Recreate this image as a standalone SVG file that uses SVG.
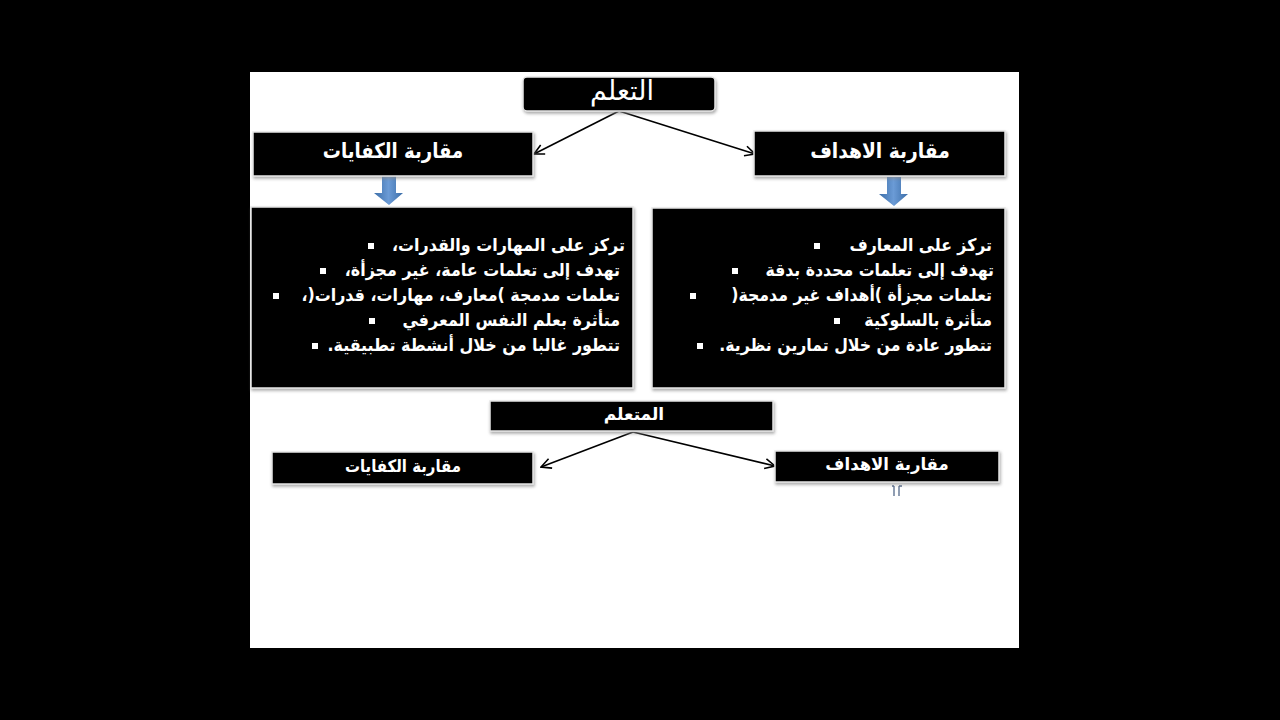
<svg xmlns="http://www.w3.org/2000/svg" width="1280" height="720" viewBox="0 0 1280 720">
<style>
.box{fill:#000;stroke:#e6e6e6;stroke-width:1.5;filter:url(#sh)}
.t{font-family:"DejaVu Sans",sans-serif;fill:#fff;direction:rtl}
.h{font-size:21px;font-weight:bold;text-anchor:middle}
.b{font-size:17.5px;font-weight:bold;text-anchor:start}
.con{stroke:#000;stroke-width:1.6;fill:none;marker-end:url(#ah)}
.bul{fill:#fff}
</style>
<defs>
<filter id="sh" x="-10%" y="-20%" width="120%" height="150%">
<feDropShadow dx="1" dy="2" stdDeviation="1.5" flood-color="#888" flood-opacity="0.7"/>
</filter>
<marker id="ah" viewBox="0 0 12 12" refX="11" refY="6" markerWidth="12" markerHeight="12" markerUnits="userSpaceOnUse" orient="auto">
<path d="M1,1 L11,6 L1,11" fill="none" stroke="#000" stroke-width="1.6"/>
</marker>
<linearGradient id="bl" x1="0" x2="1" y1="0" y2="0">
<stop offset="0" stop-color="#3c6ea8"/>
<stop offset="0.5" stop-color="#6b9bd6"/>
<stop offset="1" stop-color="#3c6ea8"/>
</linearGradient>
</defs>
<rect x="0" y="0" width="1280" height="720" fill="#000"/>
<rect x="250" y="72" width="769" height="576" fill="#fff"/>

<g id="connectors">
<line class="con" x1="619" y1="111" x2="534" y2="154"/>
<line class="con" x1="619" y1="111" x2="755" y2="154"/>
<line class="con" x1="633" y1="432" x2="541" y2="467"/>
<line class="con" x1="633" y1="432" x2="775" y2="466"/>
<path d="M382,176 H396 V193 H403 L389,205 L374,193 H382 Z" fill="url(#bl)"/>
<path d="M887,177 H901 V194 H908 L894,206 L879,194 H887 Z" fill="url(#bl)"/>
<path d="M894,486 V496 M899,486 V496 M892,486 H894 M899,486 H902" stroke="#556a8a" stroke-width="1.3" fill="none"/>
</g>

<g id="n-taallum">
<rect class="box" x="523" y="77" width="192" height="34" rx="4"/>
<text class="t h" x="622" y="100" style="font-weight:normal;font-size:27px">التعلم</text>
</g>
<g id="n-kifayat">
<rect class="box" x="253" y="132" width="280" height="44"/>
<text class="t h" transform="translate(393,158) scale(0.86,1)">مقاربة الكفايات</text>
</g>
<g id="n-ahdaf">
<rect class="box" x="754" y="131" width="251" height="45"/>
<text class="t h" transform="translate(880,158) scale(0.89,1)">مقاربة الاهداف</text>
</g>

<g id="n-kifayat-list">
<rect class="box" x="251" y="207" width="382" height="181"/>
<text class="t b" transform="translate(625,251) scale(0.91,1)">تركز على المهارات والقدرات،</text>
<text class="t b" transform="translate(620,276) scale(0.91,1)">تهدف إلى تعلمات عامة، غير مجزأة،</text>
<text class="t b" transform="translate(620,301) scale(0.91,1)">تعلمات مدمجة )معارف، مهارات، قدرات(،</text>
<text class="t b" transform="translate(620,326) scale(0.91,1)">متأثرة بعلم النفس المعرفي</text>
<text class="t b" transform="translate(620,351) scale(0.91,1)">تتطور غالبا من خلال أنشطة تطبيقية.</text>
<rect class="bul" x="368" y="243" width="6" height="6"/>
<rect class="bul" x="320" y="268" width="6" height="6"/>
<rect class="bul" x="273" y="293" width="6" height="6"/>
<rect class="bul" x="369" y="318" width="6" height="6"/>
<rect class="bul" x="312" y="343" width="6" height="6"/>
</g>

<g id="n-ahdaf-list">
<rect class="box" x="652" y="208" width="353" height="180"/>
<text class="t b" transform="translate(992,251) scale(0.9,1)">تركز على المعارف</text>
<text class="t b" transform="translate(994,276) scale(0.9,1)">تهدف إلى تعلمات محددة بدقة</text>
<text class="t b" transform="translate(992,301) scale(0.9,1)">تعلمات مجزأة )أهداف غير مدمجة(</text>
<text class="t b" transform="translate(992,326) scale(0.9,1)">متأثرة بالسلوكية</text>
<text class="t b" transform="translate(992,351) scale(0.9,1)">تتطور عادة من خلال تمارين نظرية.</text>
<rect class="bul" x="814" y="243" width="6" height="6"/>
<rect class="bul" x="732" y="268" width="6" height="6"/>
<rect class="bul" x="690" y="293" width="6" height="6"/>
<rect class="bul" x="834" y="318" width="6" height="6"/>
<rect class="bul" x="697" y="343" width="6" height="6"/>
</g>

<g id="n-mutaallim">
<rect class="box" x="490" y="401" width="283" height="30"/>
<text class="t h" x="634" y="420" style="font-size:17px">المتعلم</text>
</g>
<g id="n-kifayat2">
<rect class="box" x="272" y="452" width="261" height="32"/>
<text class="t h" transform="translate(403,472) scale(0.88,1)" style="font-size:17px">مقاربة الكفايات</text>
</g>
<g id="n-ahdaf2">
<rect class="box" x="775" y="451" width="224" height="31"/>
<text class="t h" transform="translate(887,470) scale(0.97,1)" style="font-size:17px">مقاربة  الاهداف</text>
</g>
</svg>
